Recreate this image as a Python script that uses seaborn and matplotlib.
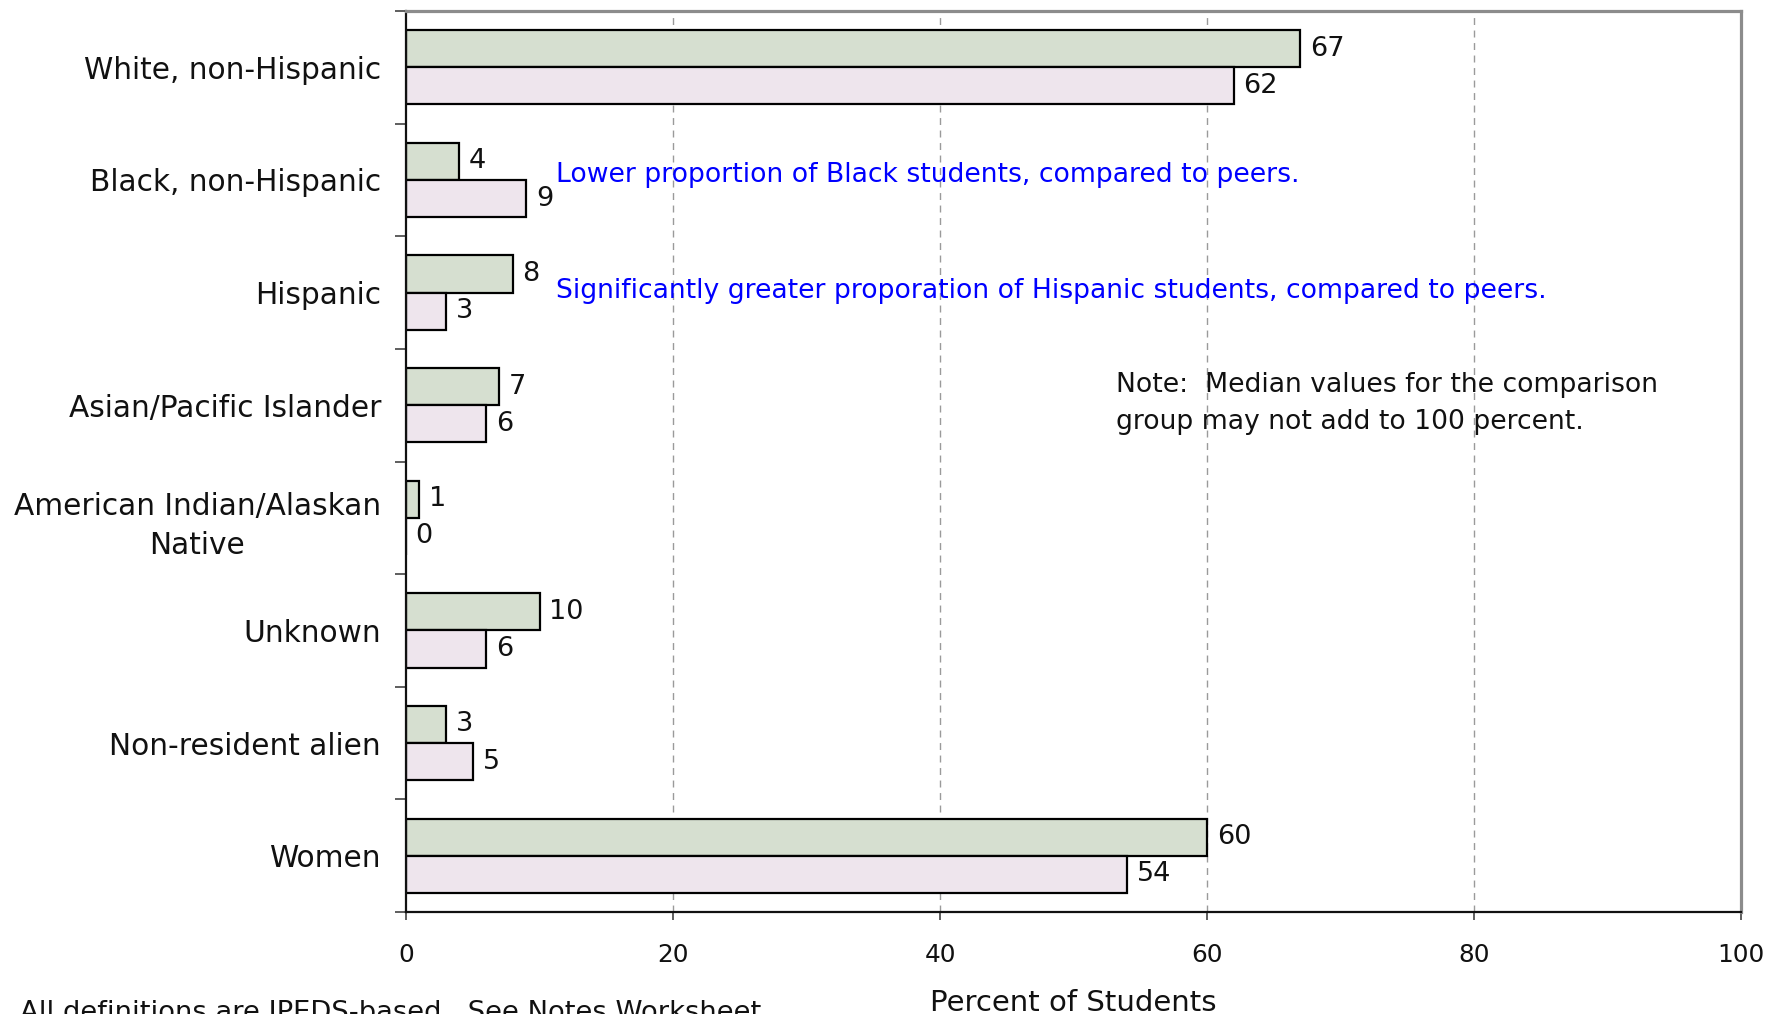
import matplotlib
matplotlib.use("Agg")
import matplotlib.pyplot as plt
import pandas as pd
import seaborn as sns
from matplotlib.ticker import FixedLocator

# Enrollment composition (percent of students)
categories = [
    "White, non-Hispanic",
    "Black, non-Hispanic",
    "Hispanic",
    "Asian/Pacific Islander",
    "American Indian/Alaskan\nNative",
    "Unknown",
    "Non-resident alien",
    "Women",
]
institution = [67, 4, 8, 7, 1, 10, 3, 60]
peer_median = [62, 9, 3, 6, 0, 6, 5, 54]
series_names = ["Institution", "Comparison group median"]
x_ticks = [0, 20, 40, 60, 80, 100]

df = pd.DataFrame({
    "category": categories * 2,
    "percent": institution + peer_median,
    "group": [series_names[0]] * len(categories) + [series_names[1]] * len(categories),
})

sns.set_theme(style="white")
plt.rcParams["font.family"] = ["DejaVu Sans"]

fig = plt.figure(figsize=(17.69, 10.14), dpi=100)
ax = fig.add_axes([0.22951, 0.10059, 0.75466, 0.88856])

sns.barplot(
    data=df, y="category", x="percent", hue="group", orient="h",
    order=categories, hue_order=series_names,
    palette=["#D5E1CD", "#EFE4EE"], width=0.66,
    edgecolor="black", linewidth=1.6, legend=False, ax=ax,
)

for cont in ax.containers:
    ax.bar_label(cont, padding=7, fontsize=19.5, color="#111111")

ax.set_xlim(0, 100)
ax.set_ylim(len(categories) - 0.5, -0.5)
ax.set_xticks(x_ticks)
ax.set_xticklabels([str(v) for v in x_ticks], fontsize=17.8, color="#111111")
ax.set_yticks(range(len(categories)))
ax.set_yticklabels(categories, fontsize=21.3, color="#111111",
                   multialignment="center", linespacing=1.45)
ax.set_ylabel("")

# Category separators on the left axis
ax.yaxis.set_minor_locator(FixedLocator([i - 0.5 for i in range(len(categories) + 1)]))
ax.tick_params(axis="y", which="major", length=0, pad=18)
ax.tick_params(axis="y", which="minor", left=True, length=8, width=1.1, color="#333333")
ax.tick_params(axis="x", which="major", bottom=True, length=6, width=1.1, color="#333333", pad=16)

# Vertical dashed gridlines
for v in x_ticks[1:-1]:
    ax.axvline(v, color="#9a9a9a", lw=1.0, ls=(0, (5, 4)), zorder=0)

for side in ["left", "bottom"]:
    ax.spines[side].set_color("#111111")
    ax.spines[side].set_linewidth(1.6)
for side in ["top", "right"]:
    ax.spines[side].set_color("#8c8c8c")
    ax.spines[side].set_linewidth(2.3)
    ax.spines[side].set_visible(True)

ax.set_xlabel("Percent of Students", fontsize=21, color="#111111")
ax.xaxis.label.set_va("baseline")
ax.xaxis.set_label_coords(0.5, -0.110)

ax.text(11.2, 1.02, "Lower proportion of Black students, compared to peers.",
        color="#0000FF", fontsize=19.2, va="baseline", ha="left")
ax.text(11.2, 2.05,
        "Significantly greater proporation of Hispanic students, compared to peers.",
        color="#0000FF", fontsize=19.2, va="baseline", ha="left")
ax.text(53.2, 2.887, "Note:  Median values for the comparison",
        color="#111111", fontsize=19.2, va="baseline", ha="left")
ax.text(53.2, 3.207, "group may not add to 100 percent.",
        color="#111111", fontsize=19.2, va="baseline", ha="left")

fig.text(20 / 1769, -6 / 1014,
         "All definitions are IPEDS-based.  See Notes Worksheet.",
         fontsize=19.7, color="#111111", va="baseline", ha="left")

fig.savefig("out.png", dpi=100)
